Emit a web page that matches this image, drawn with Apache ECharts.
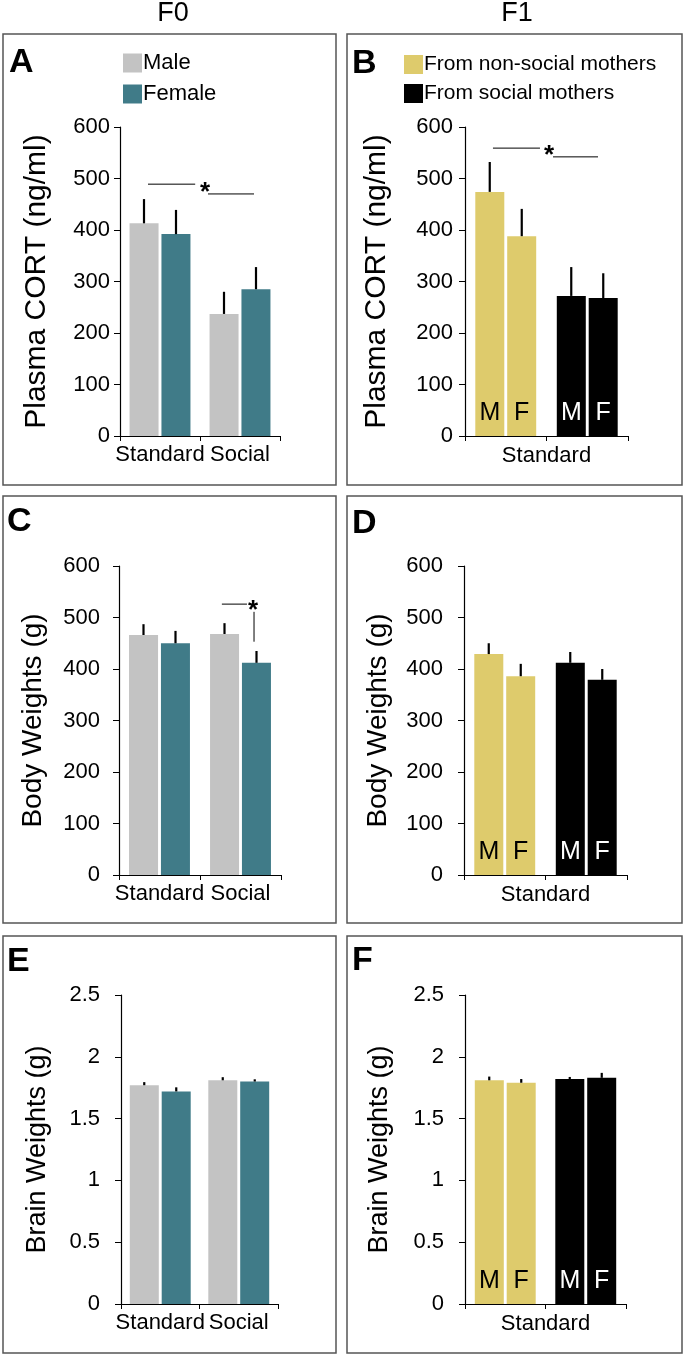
<!DOCTYPE html>
<html>
<head>
<meta charset="utf-8">
<script src="https://cdn.jsdelivr.net/npm/echarts@6/dist/echarts.min.js"></script>
<style>
html, body { margin: 0; padding: 0; background: #fff; }
#chart_1 { width: 685px; height: 1357px; }
</style>
</head>
<body>
<div id="chart_1"></div>
<script>
// groups
var groupsF0 = ['Standard', 'Social'];
var groupsF1 = ['From non-social mothers', 'From social mothers'];
var sexF0 = ['Male', 'Female'];
var sexF1 = ['M', 'F'];

// plasma CORT (ng/ml), mean and sem
var cortF0Male = [413, 237];
var cortF0MaleSem = [47, 43];
var cortF0Female = [392, 285];
var cortF0FemaleSem = [47, 43];
var cortF1M = [474, 272];
var cortF1MSem = [58, 56];
var cortF1F = [388, 268];
var cortF1FSem = [53, 48];

// body weights (g)
var bodyF0Male = [466, 468];
var bodyF0MaleSem = [21, 21];
var bodyF0Female = [450, 412];
var bodyF0FemaleSem = [24, 23];
var bodyF1M = [429, 412];
var bodyF1MSem = [21, 21];
var bodyF1F = [386, 379];
var bodyF1FSem = [24, 21];

// brain weights (g)
var brainF0Male = [1.77, 1.81];
var brainF0MaleSem = [0.025, 0.025];
var brainF0Female = [1.72, 1.80];
var brainF0FemaleSem = [0.033, 0.018];
var brainF1M = [1.81, 1.82];
var brainF1MSem = [0.03, 0.017];
var brainF1F = [1.79, 1.83];
var brainF1FSem = [0.03, 0.04];

// y axis ranges [min, max, step]
var weightTicks = [0, 600, 100];
var brainTicks = [0, 2.5, 0.5];

// significance marks: [x1, y1, x2, y2], x in category units (0 = centre of first group)
var sigCortF0 = [[-0.15, 489, 0.44, 489], [0.6, 470, 1.175, 470]];
var starCortF0 = [[0.5625, 483]];
var sigCortF1 = [[-0.157, 559, 0.42, 559], [0.58, 542, 1.132, 542]];
var starCortF1 = [[0.53, 555]];
var sigBodyF0 = [[0.77, 526, 1.08, 526], [1.167, 511, 1.167, 453]];
var starBodyF0 = [[1.155, 524]];

var FONT = 'Liberation Sans, Arial, sans-serif';
var colMale = '#c3c3c3';
var colFemale = '#407b88';
var colNonSocial = '#decb6c';
var colSocial = '#000000';

var grids = [
	{ left: 120, top: 127, width: 160, height: 309 },
	{ left: 465, top: 127, width: 163, height: 309 },
	{ left: 119, top: 566, width: 162, height: 309 },
	{ left: 464, top: 566, width: 163, height: 309 },
	{ left: 121, top: 995, width: 157, height: 309 },
	{ left: 465, top: 995, width: 161, height: 309 }
];

function makeX(i, f1) {
	return {
		type: 'category',
		gridIndex: i,
		data: f1 ? groupsF1 : groupsF0,
		axisLine: { lineStyle: { color: '#000', width: 1.2 } },
		axisTick: { show: true, length: 5, lineStyle: { color: '#000' } },
		axisLabel: { show: !f1, interval: 0, hideOverlap: false, color: '#000', fontSize: 22, fontFamily: FONT, margin: 8 },
		name: f1 ? 'Standard' : '',
		nameLocation: 'middle',
		nameGap: 9,
		nameTextStyle: { color: '#000', fontSize: 22, fontFamily: FONT, verticalAlign: 'top' }
	};
}

function makeY(i, name, ticks, gap, margin, nameSize) {
	return {
		type: 'value',
		gridIndex: i,
		min: ticks[0],
		max: ticks[1],
		interval: ticks[2],
		name: name,
		nameLocation: 'middle',
		nameGap: gap,
		nameTextStyle: { color: '#000', fontSize: nameSize, fontFamily: FONT },
		axisLine: { show: true, lineStyle: { color: '#000', width: 1.2 } },
		axisTick: { show: true, length: 6, lineStyle: { color: '#000' } },
		axisLabel: { color: '#000', fontSize: 22, fontFamily: FONT, margin: margin },
		splitLine: { show: false }
	};
}

function errorItem(params, api) {
	var base = api.coord([api.value(0), api.value(1)]);
	var tip = api.coord([api.value(0), api.value(1) + api.value(3)]);
	var x = base[0] + api.value(2) * 16;
	return {
		type: 'line',
		shape: { x1: x, y1: base[1], x2: x, y2: tip[1] },
		style: { stroke: '#000', lineWidth: 2.2 }
	};
}

function sigItem(params, api) {
	var o = api.coord([0, 0]);
	var band = api.size([1, 0])[0];
	var p1 = api.coord([0, api.value(3)]);
	var p2 = api.coord([0, api.value(5)]);
	return {
		type: 'line',
		shape: { x1: o[0] + api.value(2) * band, y1: p1[1], x2: o[0] + api.value(4) * band, y2: p2[1] },
		style: { stroke: '#000', lineWidth: 1 }
	};
}

function starItem(params, api) {
	var o = api.coord([0, 0]);
	var band = api.size([1, 0])[0];
	var p = api.coord([0, api.value(3)]);
	return {
		type: 'text',
		x: o[0] + api.value(2) * band,
		y: p[1] + 6,
		style: { text: '*', fill: '#000', font: 'bold 26px ' + FONT, align: 'center', verticalAlign: 'middle' }
	};
}

function errRows(vals, sems, side) {
	var rows = [];
	for (var i = 0; i < vals.length; i++) {
		rows.push([i, vals[i], side, sems[i]]);
	}
	return rows;
}

function f0Series(i, male, maleSem, female, femaleSem) {
	return [
		{ name: sexF0[0], type: 'bar', xAxisIndex: i, yAxisIndex: i, barWidth: 29, barGap: '10%',
			itemStyle: { color: colMale }, data: male },
		{ name: sexF0[1], type: 'bar', xAxisIndex: i, yAxisIndex: i, barWidth: 29, barGap: '10%',
			itemStyle: { color: colFemale }, data: female },
		{ type: 'custom', xAxisIndex: i, yAxisIndex: i, renderItem: errorItem, encode: { x: 0, y: 1 }, z: 5,
			data: errRows(male, maleSem, -1).concat(errRows(female, femaleSem, 1)) }
	];
}

function f1Data(vals, sex) {
	var cols = [colNonSocial, colSocial];
	var txt = ['#000', '#fff'];
	return vals.map(function (v, k) {
		return { value: v, itemStyle: { color: cols[k] }, label: { color: txt[k] } };
	});
}

function f1Series(i, m, mSem, f, fSem) {
	var out = [];
	[[m, sexF1[0]], [f, sexF1[1]]].forEach(function (d) {
		out.push({
			name: d[1], type: 'bar', xAxisIndex: i, yAxisIndex: i, barWidth: 29, barGap: '10%',
			label: { show: true, position: 'insideBottom', distance: 10, formatter: d[1], fontSize: 25, fontFamily: FONT },
			data: f1Data(d[0], d[1])
		});
	});
	out.push({ type: 'custom', xAxisIndex: i, yAxisIndex: i, renderItem: errorItem, encode: { x: 0, y: 1 }, z: 5,
		data: errRows(m, mSem, -1).concat(errRows(f, fSem, 1)) });
	return out;
}

function sigSeries(i, segs, stars) {
	return [
		{ type: 'custom', xAxisIndex: i, yAxisIndex: i, renderItem: sigItem, encode: { x: 0, y: 1 }, z: 6,
			data: segs.map(function (s) { return [0, 0, s[0], s[1], s[2], s[3]]; }) },
		{ type: 'custom', xAxisIndex: i, yAxisIndex: i, renderItem: starItem, encode: { x: 0, y: 1 }, z: 6,
			data: stars.map(function (s) { return [0, 0, s[0], s[1]]; }) }
	];
}

var series = []
	.concat(f0Series(0, cortF0Male, cortF0MaleSem, cortF0Female, cortF0FemaleSem))
	.concat(sigSeries(0, sigCortF0, starCortF0))
	.concat(f1Series(1, cortF1M, cortF1MSem, cortF1F, cortF1FSem))
	.concat(sigSeries(1, sigCortF1, starCortF1))
	.concat(f0Series(2, bodyF0Male, bodyF0MaleSem, bodyF0Female, bodyF0FemaleSem))
	.concat(sigSeries(2, sigBodyF0, starBodyF0))
	.concat(f1Series(3, bodyF1M, bodyF1MSem, bodyF1F, bodyF1FSem))
	.concat(f0Series(4, brainF0Male, brainF0MaleSem, brainF0Female, brainF0FemaleSem))
	.concat(f1Series(5, brainF1M, brainF1MSem, brainF1F, brainF1FSem));

// legend-only entries for the mother groups
series.push({ name: groupsF1[0], type: 'line', xAxisIndex: 1, yAxisIndex: 1, data: [],
	itemStyle: { color: colNonSocial }, lineStyle: { color: colNonSocial } });
series.push({ name: groupsF1[1], type: 'line', xAxisIndex: 1, yAxisIndex: 1, data: [],
	itemStyle: { color: colSocial }, lineStyle: { color: colSocial } });

function panelBox(x, y, w, h) {
	return { type: 'rect', shape: { x: x, y: y, width: w, height: h }, silent: true,
		style: { fill: 'none', stroke: '#555', lineWidth: 1.5 } };
}
function txt(s, x, y, font) {
	return { type: 'text', x: x, y: y, silent: true,
		style: { text: s, font: font, fill: '#000', align: 'left', verticalAlign: 'middle' } };
}

var option = {
	animation: false,
	backgroundColor: '#fff',
	textStyle: { fontFamily: FONT },
	grid: grids,
	xAxis: [makeX(0, false), makeX(1, true), makeX(2, false), makeX(3, true), makeX(4, false), makeX(5, true)],
	yAxis: [
		makeY(0, 'Plasma CORT (ng/ml)', weightTicks, 68, 10, 30),
		makeY(1, 'Plasma CORT (ng/ml)', weightTicks, 73, 12, 30),
		makeY(2, 'Body Weights (g)', weightTicks, 72, 19, 28),
		makeY(3, 'Body Weights (g)', weightTicks, 72, 21, 28),
		makeY(4, 'Brain Weights (g)', brainTicks, 70, 21, 27),
		makeY(5, 'Brain Weights (g)', brainTicks, 72, 21, 27)
	],
	legend: [
		{ data: sexF0, orient: 'vertical', left: 123, top: 52, itemWidth: 19, itemHeight: 19, itemGap: 9,
			icon: 'rect', padding: 0, textStyle: { fontSize: 22, color: '#000', fontFamily: FONT, padding: [0, 0, 0, -4] } },
		{ data: groupsF1, orient: 'vertical', left: 404, top: 54, itemWidth: 19, itemHeight: 19, itemGap: 8,
			icon: 'rect', padding: 0, textStyle: { fontSize: 21, color: '#000', fontFamily: FONT, padding: [0, 0, 0, -4] } }
	],
	graphic: [
		panelBox(3, 34, 333, 451),
		panelBox(347, 34, 335, 451),
		panelBox(3, 496, 333, 427),
		panelBox(347, 496, 335, 427),
		panelBox(3, 936, 333, 417),
		panelBox(347, 936, 335, 417),
		{ type: 'text', x: 173, y: 14, silent: true, style: { text: 'F0', font: '27px ' + FONT, fill: '#000', align: 'center', verticalAlign: 'middle' } },
		{ type: 'text', x: 517, y: 14, silent: true, style: { text: 'F1', font: '27px ' + FONT, fill: '#000', align: 'center', verticalAlign: 'middle' } },
		txt('A', 9, 63, 'bold 34px ' + FONT),
		txt('B', 352, 64, 'bold 34px ' + FONT),
		txt('C', 7, 522, 'bold 34px ' + FONT),
		txt('D', 352, 524, 'bold 34px ' + FONT),
		txt('E', 7, 962, 'bold 34px ' + FONT),
		txt('F', 352, 961, 'bold 34px ' + FONT)
	],
	series: series
};

var myChart = echarts.init(document.getElementById('chart_1'));
myChart.setOption(option);
</script>
</body>
</html>
